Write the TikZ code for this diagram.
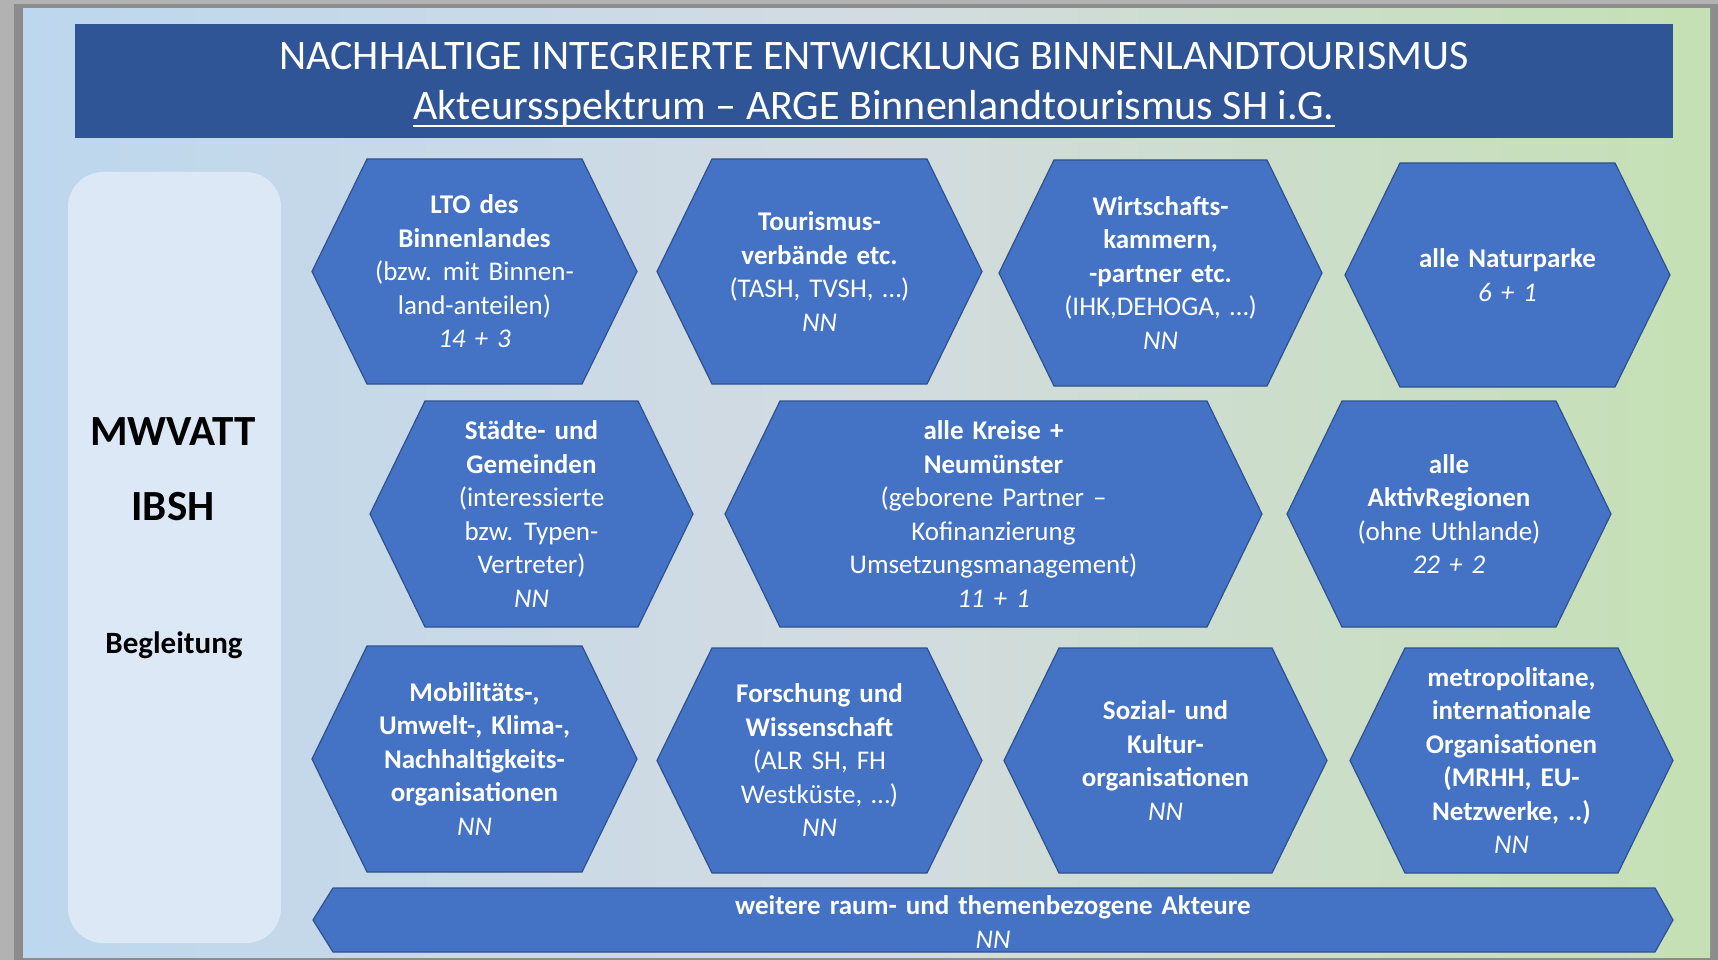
\documentclass[tikz,border=0pt]{standalone}
\usepackage{fontspec}
\setmainfont{Carlito}
\definecolor{hexblue}{RGB}{68,114,196}
\definecolor{hexline}{RGB}{47,82,143}
\definecolor{titleblue}{RGB}{47,85,151}
\definecolor{bgleft}{RGB}{189,215,238}
\definecolor{bgmid}{RGB}{211,219,225}
\definecolor{bgright}{RGB}{197,224,180}
\definecolor{panel}{RGB}{220,232,245}
\definecolor{frameout}{RGB}{178,178,178}
\definecolor{framein}{RGB}{140,140,140}
\newcommand\hexfont{\fontsize{27}{33.5}\selectfont\setlength{\spaceskip}{9pt}}
\newcommand\barfont{\fontsize{27}{34}\selectfont\setlength{\spaceskip}{9pt}}
\newcommand\myhex[6]{%
  \path[hexshape] (#2,{(#4+#5)/2}) -- (#2+55,#4) -- (#3-55,#4) -- (#3,{(#4+#5)/2}) -- (#3-55,#5) -- (#2+55,#5) -- cycle;
  \node[hextext] (#1) at ({(#2+#3)/2},{(#4+#5)/2}) {#6};
}
\begin{document}
\begin{tikzpicture}[x=1pt,y=-1pt,
  hexshape/.style={fill=hexblue, draw=hexline, line width=1.2pt},
  hextext/.style={text=white, align=center, font=\hexfont, inner sep=0pt},
  titletext/.style={text=white, anchor=base, inner sep=0pt, font=\fontsize{42}{50}\selectfont},
  sidetext/.style={text=black, inner sep=0pt, font=\bfseries\fontsize{43}{50}\selectfont}]
\useasboundingbox (0,0) rectangle (1718,960);
\fill[frameout] (0,0) rectangle (1718,960);
\fill[framein] (14,4) rectangle (1718,960);
\shade[left color=bgleft, right color=bgright, middle color=bgmid] (23,9) rectangle (1710,957);

% title
\fill[titleblue] (75,24) rectangle (1673,138);
\node[titletext] (t1) at (874,70) {NACHHALTIGE INTEGRIERTE ENTWICKLUNG BINNENLANDTOURISMUS};
\node[titletext] (t2) at (874,120) {Akteursspektrum – ARGE Binnenlandtourismus SH i.G.};
\draw[white, line width=2pt] ([yshift=-6pt]t2.base west) -- ([yshift=-6pt]t2.base east);

% left panel
\fill[panel, rounded corners=35pt] (68,172) rectangle (281,943);
\node[sidetext] (mw) at (173,432) {MWVATT};
\node[sidetext] (ib) at (173,507) {IBSH};
\node[sidetext, font=\bfseries\fontsize{31}{36}\selectfont] (bg) at (174,645) {Begleitung};

% row 1
\myhex{h1}{312}{637}{159}{384}{\textbf{LTO des}\\\textbf{Binnenlandes}\\(bzw. mit Binnen-\\land-anteilen)\\\textit{14 + 3}}
\myhex{h2}{657}{982}{159}{384}{\textbf{Tourismus-}\\\textbf{verbände etc.}\\(TASH, TVSH, …)\\\textit{NN}}
\myhex{h3}{999}{1322}{160}{386}{\textbf{Wirtschafts-}\\\textbf{kammern,}\\\textbf{-partner etc.}\\(IHK,DEHOGA, …)\\\textit{NN}}
\myhex{h4}{1345}{1670}{163}{387}{\textbf{alle Naturparke}\\\textit{6 + 1}}
% row 2
\myhex{h5}{370}{693}{401}{627}{\textbf{Städte- und}\\\textbf{Gemeinden}\\(interessierte\\bzw. Typen-\\Vertreter)\\\textit{NN}}
\myhex{h6}{725}{1262}{401}{627}{\textbf{alle Kreise +}\\\textbf{Neumünster}\\(geborene Partner –\\Kofinanzierung\\Umsetzungsmanagement)\\\textit{11 + 1}}
\myhex{h7}{1287}{1611}{401}{627}{\textbf{alle}\\\textbf{AktivRegionen}\\(ohne Uthlande)\\\textit{22 + 2}}
% row 3
\myhex{h8}{312}{637}{646}{872}{\textbf{Mobilitäts-,}\\\textbf{Umwelt-, Klima-,}\\\textbf{Nachhaltigkeits-}\\\textbf{organisationen}\\\textit{NN}}
\myhex{h9}{657}{982}{648}{873}{\textbf{Forschung und}\\\textbf{Wissenschaft}\\(ALR SH, FH\\Westküste, …)\\\textit{NN}}
\myhex{h10}{1004}{1327}{648}{873}{\textbf{Sozial- und}\\\textbf{Kultur-}\\\textbf{organisationen}\\\textit{NN}}
\myhex{h11}{1350}{1673}{648}{873}{\textbf{metropolitane,}\\\textbf{internationale}\\\textbf{Organisationen}\\\textbf{(MRHH, EU-}\\\textbf{Netzwerke, ..)}\\\textit{NN}}

% bottom bar
\path[hexshape] (313,920) -- (333,888) -- (1655,888) -- (1673,920) -- (1655,952) -- (333,952) -- cycle;
\node[hextext, font=\barfont] (bar) at (993,922) {\textbf{weitere raum- und themenbezogene Akteure}\\\textit{NN}};
\end{tikzpicture}
\end{document}
